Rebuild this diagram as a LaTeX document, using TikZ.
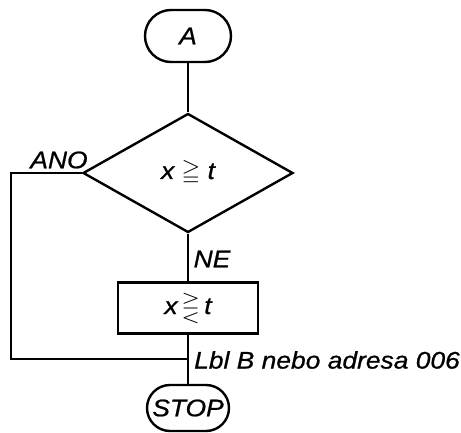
\documentclass[tikz,border=0pt]{standalone}
\usepackage{amssymb}
\usepackage{fontspec}
\setmainfont{Liberation Sans}[FakeStretch=1.1, ItalicFeatures={FakeBold=0.8}]
\usetikzlibrary{shapes.geometric}
\tikzset{
  lbl/.style={font=\fontsize{24}{28}\selectfont\itshape, inner sep=0pt},
  term/.style={draw, lbl, rectangle},
  decision/.style={draw, lbl, diamond, aspect=1.76},
  proc/.style={draw, lbl, rectangle},
}
\begin{document}
\begin{tikzpicture}[x=1pt,y=-1pt,line width=2.4pt]
\useasboundingbox (0,0) rectangle (461,433);
\node[term, minimum width=86, minimum height=52, rounded corners=26] (A) at (188,36) {A};
\node[decision, minimum width=210, minimum height=119] (D) at (188,173) {x $\geqq$ t};
\node[proc, minimum width=140, minimum height=51] (P) at (188,308) {x\,$\gtreqless$\,t};
\node[term, minimum width=82, minimum height=46, rounded corners=23] (S) at (188,408) {STOP};
\coordinate (L) at (11,173);
\coordinate (J) at (188,359);
\draw (A) -- (D);
\draw (D) -- (P);
\draw (P) -- (S);
\draw (D.west) -- (L) |- (J);
\node[lbl] (ano) at (59,160) {ANO};
\node[lbl] (ne) at (212,259) {NE};
\node[lbl, anchor=west] (adr) at (193,360) {Lbl B nebo adresa 006};
\end{tikzpicture}
\end{document}
